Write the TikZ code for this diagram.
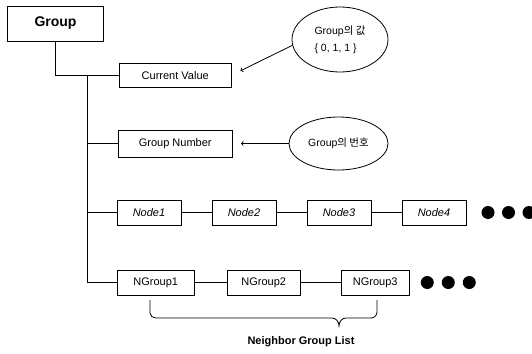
\documentclass[tikz,border=0pt]{standalone}
\usepackage{fontspec}
\setmainfont{Liberation Sans}
\newfontfamily\krfont{Noto Sans CJK KR}
\usetikzlibrary{positioning, arrows, shapes.geometric}
\newcommand\boxfont{\fontsize{11pt}{13pt}\selectfont}
\tikzset{
  grouptree/.style={
	x=1pt, y=-1pt, % one unit is one pixel of the page, y runs down
	>=to, % thin open arrow heads
	line width=0.8pt, % thin pen for boxes and lines
	node distance=95pt, % centre to centre of the boxes in a row
  },
  field/.style={draw, rectangle, minimum height=25pt, inner sep=0pt, font=\boxfont}, % the boxes
  member/.style={field, minimum width=64pt, font=\boxfont\itshape}, % Node boxes
  note/.style={draw, ellipse, inner sep=0pt, font=\fontsize{10.5pt}{17pt}\selectfont}, % comments
  more/.style={circle, fill=black, minimum size=13pt, inner sep=0pt}, % the dots
}

\begin{document}
\begin{tikzpicture}[grouptree]
	  \useasboundingbox (0,0) rectangle (532,353);

	  \node[field, minimum width=96pt, minimum height=35pt, font=\bfseries\fontsize{14pt}{16pt}\selectfont] (grp) at (55.5,23.5) {Group};
	  \node[field, minimum width=111.5pt, minimum height=24.5pt] (cv) at (175.25,75.25) {Current Value};
	  \node[field, minimum width=114.5pt, minimum height=27pt] (gn) at (175.25,143.5) {Group Number};

	  \node[member] (n1) at (149,212.5) {Node1};
	  \node[member, right of=n1] (n2) {Node2};
	  \node[member, right of=n2] (n3) {Node3};
	  \node[member, right of=n3] (n4) {Node4};
	  \node[more, right of=n4, node distance=54pt] (n5) {};
	  \node[more, right of=n5, node distance=20.5pt] (n6) {};
	  \node[more, right of=n6, node distance=20.5pt] (n7) {};

	  \node[field, minimum width=77.5pt] (ng1) at (155.75,282.5) {NGroup1};
	  \node[field, minimum width=73pt, right of=ng1, node distance=108pt] (ng2) {NGroup2};
	  \node[field, minimum width=68.6pt, right of=ng2, node distance=111.5pt] (ng3) {NGroup3};
	  \node[more, right of=ng3, node distance=52pt] (ng4) {};
	  \node[more, right of=ng4, node distance=21pt] (ng5) {};
	  \node[more, right of=ng5, node distance=21pt] (ng6) {};

	  \node[note, minimum width=96pt, minimum height=65pt, align=left] (e1) at (340,39.5) {Group{\krfont 의 값}\\\{ 0, 1, 1 \}};
	  \node[note, minimum width=99pt, minimum height=53pt] (e2) at (338.5,143.5) {Group{\krfont 의 번호}};

	  \node[font=\bfseries\boxfont] (nglist) at (301,342) {Neighbor Group List};

	  % tree lines
	  \coordinate (trunk) at (87,75.25);
	  \draw (grp.south) |- (cv.west);
	  \draw (trunk) |- (ng1.west);
	  \draw (trunk |- gn.west) -- (gn.west);
	  \draw (trunk |- n1.west) -- (n1.west);

	  \draw   (n1) edge (n2)
		  (n2) edge (n3)
		  (n3) edge (n4)
		  (ng1) edge (ng2)
		  (ng2) edge (ng3)
	  ;

	  \draw[->, shorten >=10pt] (e1.187) -- (cv.east);
	  \draw[->, shorten >=8pt] (e2.west) -- (gn.east);

	  % brace under the neighbour groups
	  \draw (150,300) -- (150,313) to[out=-90, in=180] (156,318) -- (332,318)
		  to[out=0, in=90] (339,326) to[out=90, in=180] (346,318) -- (371,318)
		  to[out=0, in=-90] (377,312) -- (377,300);
	  \end{tikzpicture}
\end{document}
